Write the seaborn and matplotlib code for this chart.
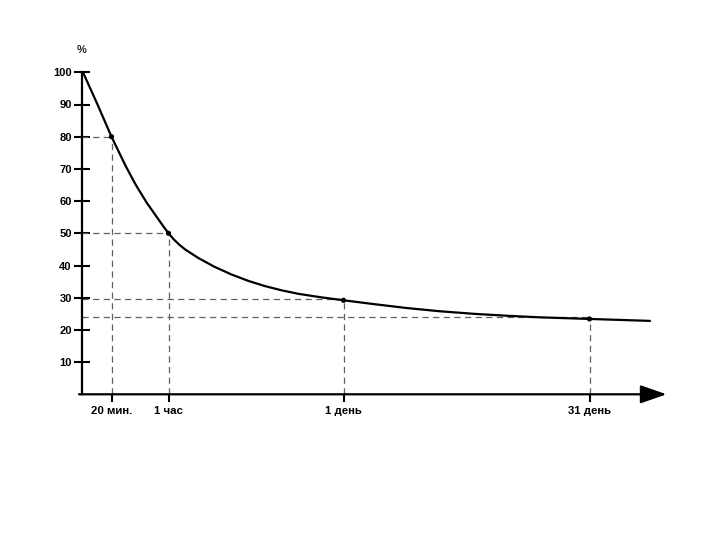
import matplotlib
matplotlib.use("Agg")
import matplotlib.pyplot as plt
import seaborn as sns
import pandas as pd

# Forgetting curve (x in schematic horizontal units)
curve_x = [1.5, 16, 30, 44, 54, 65, 77, 82, 87, 92, 98, 104, 117, 133, 150,
           167, 183.5, 200, 217, 240, 262, 290, 325, 358, 392, 425, 458.5,
           508, 568.5]
curve_y = [100, 90, 80, 71, 65.2, 59.6, 54.3, 52.1, 50, 48.2, 46.4, 44.9, 42.3,
           39.6, 37.2, 35.2, 33.6, 32.3, 31.2, 30.1, 29.2, 28.1, 26.8, 25.8, 25.0,
           24.4, 23.9, 23.4, 22.8]

mark_labels = ["20 мин.", "1 час", "1 день", "31 день"]
mark_x = [30, 87, 262, 508]
mark_y = [80, 50, 29.2, 23.4]
guide_y = [80, 50, 29.7, 24.0]

y_ticks = [10, 20, 30, 40, 50, 60, 70, 80, 90, 100]
y_unit = "%"

sns.set_style("white")
plt.rcParams["font.family"] = ["Liberation Sans", "DejaVu Sans"]

fig = plt.figure(figsize=(7.2, 5.4), dpi=100)
ax = fig.add_axes([81.5 / 720, (540 - 394.3) / 540, 600 / 720, 322 / 540])

df = pd.DataFrame({"x": curve_x, "y": curve_y})
marks = pd.DataFrame({"x": mark_x, "y": mark_y})

# dashed guide lines
ax.hlines(guide_y, 0, mark_x, colors="#606060", linestyles=(0, (5, 3.5)), lw=0.9, zorder=1)
ax.vlines(mark_x, 0, mark_y, colors="#606060", linestyles=(0, (5, 3.5)), lw=0.9, zorder=1)

sns.lineplot(data=df, x="x", y="y", color="black", lw=1.6, ax=ax, zorder=3)
sns.scatterplot(data=marks, x="x", y="y", color="black", s=14, edgecolor="none", ax=ax, zorder=4)

ax.set_xlim(0, 600)
ax.set_ylim(0, 100)
ax.set_xlabel("")
ax.set_ylabel("")

ax.set_xticks(mark_x)
ax.set_xticklabels(mark_labels, fontsize=8.2, fontweight="bold")
ax.set_yticks(y_ticks)
ax.set_yticklabels([str(v) for v in y_ticks], fontsize=8, fontweight="bold")

ax.tick_params(axis="x", bottom=True, direction="out", length=6, width=1.5,
               color="black", pad=2.5, labelcolor="black")
ax.tick_params(axis="y", left=True, direction="inout", length=11, width=1.5,
               color="black", pad=1.5, labelcolor="black")

for s in ["top", "right", "bottom"]:
    ax.spines[s].set_visible(False)
ax.spines["left"].set_color("black")
ax.spines["left"].set_linewidth(1.6)
ax.spines["left"].set_bounds(0, 100)

# x axis with arrow head
ax.annotate("", xy=(585, 0), xytext=(-2.5, 0), xycoords="data",
            arrowprops=dict(arrowstyle="-|>,head_length=0.8,head_width=0.28",
                            mutation_scale=20, lw=1.6, color="black",
                            shrinkA=0, shrinkB=0),
            annotation_clip=False, zorder=5)

ax.text(0, 107, y_unit, ha="center", va="center", fontsize=8, fontweight="bold")

ax.set_facecolor("white")
fig.patch.set_facecolor("white")
fig.savefig("out.png", dpi=100, facecolor="white")
